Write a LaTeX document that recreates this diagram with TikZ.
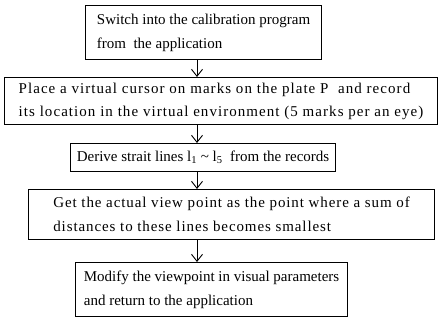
\documentclass[tikz,border=0pt]{standalone}
\usepackage{fontspec}
\setmainfont{Liberation Serif}
\usetikzlibrary{arrows.meta}
\begin{document}
\begin{tikzpicture}[x=1pt,y=-1pt,
  stepbox/.style={draw, line width=1.1pt, align=left, inner sep=0pt,
    font=\fontsize{15}{24}\selectfont, anchor=north west},
  flow/.style={line width=0.9pt, -{Straight Barb[length=7pt,width=11pt,line width=0.9pt]}}]
\useasboundingbox (0,0) rectangle (442,327);
\fill[white] (0,0) rectangle (442,327);
\node[stepbox, minimum width=236pt, minimum height=54pt] (b1) at (85,5)
  {Switch into the calibration program\\from\ \ the application};
\node[stepbox, minimum width=433pt, minimum height=47pt,
  font=\fontsize{15}{23}\selectfont\addfontfeature{LetterSpace=7}] (b2) at (4,77)
  {Place a virtual cursor on marks on the plate P\ \ and record\\its location in the virtual environment (5 marks per an eye)};
\node[stepbox, minimum width=265pt, minimum height=28pt] (b3) at (70,143)
  {Derive strait lines l\textsubscript{1} \textasciitilde\ l\textsubscript{5}\ \ from the records};
\node[stepbox, minimum width=406pt, minimum height=50pt,
  font=\fontsize{15}{24}\selectfont\addfontfeature{LetterSpace=6}] (b4) at (28,189)
  {Get the actual view point as the point where a sum of\\distances to these lines becomes smallest};
\node[stepbox, minimum width=272pt, minimum height=54pt] (b5) at (75,262)
  {Modify the viewpoint in visual parameters\\and return to the application};
\coordinate (ax) at (197,0);
\draw[flow] (b1.south -| ax) -- (b2.north -| ax);
\draw[flow] (b2.south -| ax) -- (b3.north -| ax);
\draw[flow] (b3.south -| ax) -- (b4.north -| ax);
\draw[flow] (b4.south -| ax) -- (b5.north -| ax);
\end{tikzpicture}
\end{document}
